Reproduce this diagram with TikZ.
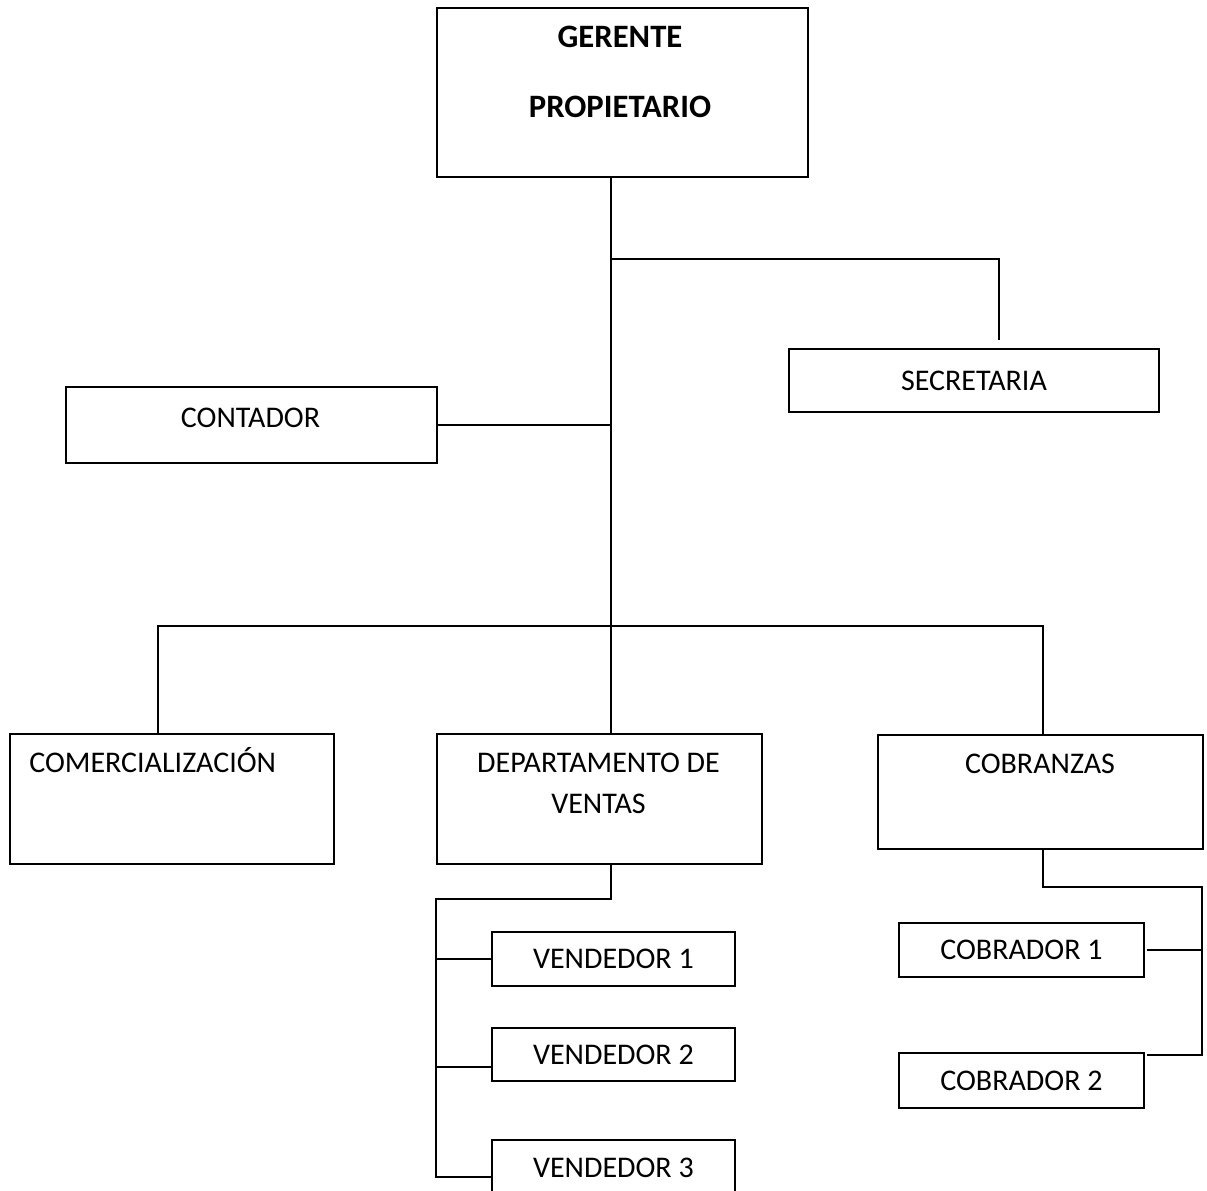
\documentclass[tikz,border=0pt]{standalone}
\usepackage{fontspec}
\setmainfont{Carlito}
\begin{document}
\begin{tikzpicture}[x=0.75pt, y=-0.75pt,
  box/.style={draw, line width=1.4pt, inner sep=0pt, anchor=north west},
  wire/.style={line width=1.4pt, line cap=rect},
  lbl/.style={inner sep=0pt, font=\fontsize{22.5}{30.75}\selectfont},
  boldlbl/.style={inner sep=0pt, anchor=base, font=\fontsize{24.5}{30.75}\selectfont\bfseries},
  every node/.style={font=\fontsize{22.5}{30.75}\selectfont}]

\useasboundingbox (0,0) rectangle (1207,1191);

% box from its top-left and bottom-right corners (in px)
\newcommand\orgbox[6]{%
  \node[box, minimum width={0.75pt*(#4-#2)}, minimum height={0.75pt*(#5-#3)}]
    (#1) at (#2,#3) {#6};}

% boxes
\orgbox{ger}{436}{7}{807}{176}{}
\orgbox{sec}{788}{348}{1158}{411}{SECRETARIA}
\orgbox{con}{65}{386}{436}{462}{}
\orgbox{com}{9}{733}{333}{863}{}
\orgbox{dep}{436}{733}{761}{863}{}
\orgbox{cob}{877}{734}{1202}{848}{}
\orgbox{v1}{491}{931}{734}{985}{VENDEDOR 1}
\orgbox{v2}{491}{1027}{734}{1080}{VENDEDOR 2}
\orgbox{v3}{491}{1139}{734}{1194}{VENDEDOR 3}
\orgbox{c1}{898}{922}{1143}{976}{COBRADOR 1}
\orgbox{c2}{898}{1052}{1143}{1107}{COBRADOR 2}

% texts placed by their baselines
\node[boldlbl] (gerA) at (620,48) {GERENTE};
\node[boldlbl] (gerB) at (620,118) {PROPIETARIO};
\node[lbl, anchor=base] (conT) at (250.5,427) {CONTADOR};
\node[lbl, anchor=base west] (comT) at (29,772) {COMERCIALIZACIÓN};
\node[lbl, anchor=base] (depA) at (598.5,772) {DEPARTAMENTO DE};
\node[lbl, anchor=base] (depB) at (598.5,813) {VENTAS};
\node[lbl, anchor=base] (cobT) at (1040,773) {COBRANZAS};

% junction points and free ends
\coordinate (spine) at (611,0);
\coordinate (jsec) at (611,259);
\coordinate (secend) at (999,339);
\coordinate (busL) at (158,626);
\coordinate (busR) at (1043,626);
\coordinate (dstem) at (611,899);
\coordinate (vbus) at (436,899);
\coordinate (t1) at (436,959);
\coordinate (t2) at (436,1067);
\coordinate (t3) at (436,1177);
\coordinate (cstem) at (1043,887);
\coordinate (cbus) at (1202,887);
\coordinate (e1) at (1148,950);
\coordinate (e2) at (1148,1055);

% main spine and side branches
\draw[wire] (ger.south -| spine) -- (dep.north -| spine);
\draw[wire] (jsec) -| (secend);
\draw[wire] (con.east) -- (con.east -| spine);
\draw[wire] (com.north -| busL) -- (busL) -- (busR) -- (cob.north -| busR);

% sales department
\draw[wire] (dep.south -| spine) -- (dstem) -- (vbus) -- (t3) -- (t3 -| v3.west);
\draw[wire] (t1) -- (t1 -| v1.west);
\draw[wire] (t2) -- (t2 -| v2.west);

% collections
\draw[wire] (cob.south -| cstem) -- (cstem) -- (cbus) |- (e2);
\draw[wire] (e1) -- (e1 -| cbus);
\end{tikzpicture}
\end{document}
